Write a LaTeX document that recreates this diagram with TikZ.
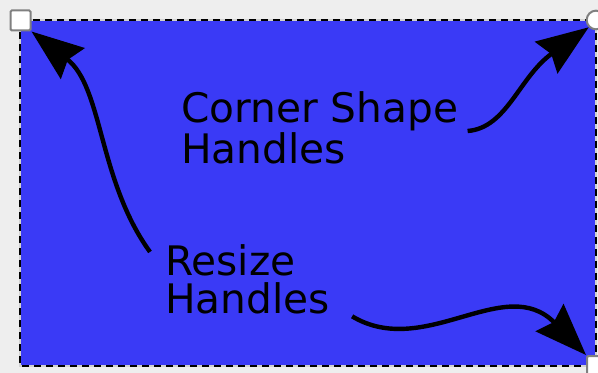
\documentclass[tikz,border=0pt]{standalone}
\usepackage{fontspec}
\setmainfont{DejaVu Sans}
\usepackage{xcolor}
\usepackage{tikz}
\usetikzlibrary{calc,arrows.meta,positioning}
\definecolor{canvas}{RGB}{238,238,238}
\definecolor{shapeblue}{RGB}{58,58,246}

\begin{document}
\begin{tikzpicture}[x=0.75pt,y=-0.75pt,
      every node/.style={font=\fontsize{30.5}{28.8}\selectfont,inner sep=0pt},
      lbl/.style={align=left,anchor=base west},
      hsq/.style={draw=gray,fill=white,line width=1.5pt,rounded corners=1pt,minimum size=15pt},
      hcirc/.style={circle,draw=gray,fill=white,line width=1.5pt,minimum size=14pt},
      arr/.style={-{Stealth[length=39pt,width=29pt,inset=4.5pt]},line width=3.3pt}]
      \useasboundingbox (0,0) rectangle (598,373);
      \fill[canvas] (0,0) rectangle (598,373);
      % the selected shape
      \fill[shapeblue] (20,20) rectangle (596,366);
      \draw[gray!35,line width=2.1pt] (20,20) rectangle (596,366);
      \draw[black,line width=2.1pt,dash pattern=on 5.25pt off 3.75pt] (20,20) rectangle (596,366);
      % handles
      \node[hsq] (tl) at (20.5,20.5) {};
      \node[hcirc] (tr) at (596,20) {};
      \node[hsq] (br) at (597,366) {};
      % labels
      \node[lbl] (corner) at (181,163.5) {Corner Shape\\Handles};
      \node[lbl] (resize) at (165,313.5) {Resize\\Handles};
      \coordinate (c0) at ($(corner.east)+(9,3)$);
      \coordinate (r0) at ($(resize.north west)+(-15,8)$);
      \coordinate (r1) at ($(resize.south east)+(22,2)$);
      \draw[arr] (r0) .. controls (98,180) and (103,87) .. (tl.south east);
      \draw[arr] (c0) .. controls (507,128) and (519,77) .. (tr.south west);
      \draw[arr] (r1) .. controls (425,360) and (505,272) .. (br.north west);
    \end{tikzpicture}
\end{document}
